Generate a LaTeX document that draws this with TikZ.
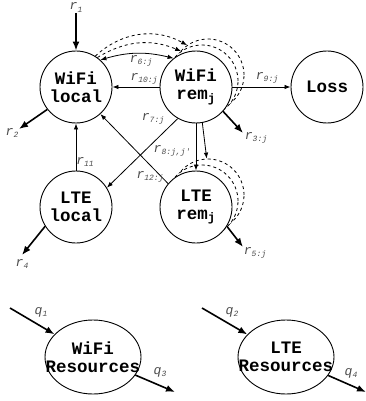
\documentclass[tikz,border=0pt]{standalone}
\usepackage{fontspec}
\setmonofont{Liberation Mono}
\usetikzlibrary{arrows.meta,shapes.geometric}

\newcommand{\rate}[2]{#1\raisebox{-2.5pt}{\fontsize{8}{8}\selectfont#2}}

\begin{document}
\begin{tikzpicture}[x=1pt,y=-1pt,>={Latex[length=6pt,width=4.5pt]},
        state/.style={circle,draw,fill=white,line width=0.9pt,minimum size=72pt,inner sep=0pt,
            align=center,font=\fontsize{17.5}{18}\selectfont\ttfamily\bfseries},
        ghost/.style={circle,draw,dashed,fill=white,line width=0.8pt,minimum size=72pt,inner sep=0pt},
        pool/.style={ellipse,draw,line width=0.9pt,minimum width=96pt,minimum height=74pt,inner sep=-15pt,
            align=center,font=\fontsize{17.5}{18}\selectfont\ttfamily\bfseries},
        rate/.style={text=black!70,inner sep=0pt,font=\fontsize{13}{13}\selectfont\ttfamily\itshape},
        flow/.style={->,line width=0.8pt},
        ext/.style={-{Latex[length=9pt,width=7pt]},line width=1.6pt}]
    \useasboundingbox (0,0) rectangle (365,401);

    % Remote copies
    \node[ghost] (wr2) at (208,75) {};
    \node[ghost] (wr1) at (202,81) {};
    \node[ghost] (lr2) at (208,195) {};
    \node[ghost] (lr1) at (202,201) {};

    % WiFi row
    \node[state] (wl) at (76,87) {WiFi\\local};
    \node[state] (wr) at (196,87) {WiFi\\rem\textsubscript{j}};
    \node[state] (loss) at (327,87) {Loss};

    % LTE row
    \node[state] (ll) at (76,207) {LTE\\local};
    \node[state] (lr) at (196,207) {LTE\\rem\textsubscript{j}};

    % Resources
    \node[pool] (wres) at (93,357) {WiFi\\Resources};
    \node[pool] (lres) at (286,357) {LTE\\Resources};

    % Free ends
    \coordinate (r1s) at (76,13);
    \coordinate (r2e) at (19,129);
    \coordinate (r3e) at (243,133);
    \coordinate (r4e) at (22,255);
    \coordinate (r5e) at (243,247);
    \coordinate (q1s) at (10,308);
    \coordinate (q2s) at (202,308);
    \coordinate (q3e) at (175,392);
    \coordinate (q4e) at (366,392);

    % Edges
    \draw[ext] (r1s) -- (wl);
    \draw[ext] (wl.218) -- (r2e);
    \draw[ext] (wr.-42) -- (r3e);
    \draw[ext] (ll.212) -- (r4e);
    \draw[ext] (lr.-32) -- (r5e);
    \draw[flow,<->] (wl.48) to[bend left=15] (wr.128);
    \draw[flow,dashed] (wl.54) to[bend left=27] (wr1.125);
    \draw[flow,dashed] (wl.58) to[bend left=36] (wr2.125);
    \draw[flow] (wr) -- (wl);
    \draw[flow] (wr) -- (loss);
    \draw[flow] (wr.240) -- (ll.32);
    \draw[flow] (lr.140) -- (wl.-48);
    \draw[flow] (ll) -- (wl);
    \draw[flow] (wr.270) -- (lr.90);
    \draw[flow] (wr.280) -- (lr2.92);
    \draw[ext] (q1s) -- (wres);
    \draw[ext] (wres) -- (q3e);
    \draw[ext] (q2s) -- (lres);
    \draw[ext] (lres) -- (q4e);

    % Labels
    \node[rate] (l1) at (76,7.5) {\rate{r}{1}};
    \node[rate] (l2) at (12,133) {\rate{r}{2}};
    \node[rate] (l3) at (256,138) {\rate{r}{3:j}};
    \node[rate] (l4) at (22,264) {\rate{r}{4}};
    \node[rate] (l5) at (255,253) {\rate{r}{5:j}};
    \node[rate] (l6) at (141,61) {\rate{r}{6:j}};
    \node[rate] (l7) at (153,119) {\rate{r}{7:j}};
    \node[rate] (l8) at (172,151) {\rate{r}{8:j,j'}};
    \node[rate] (l9) at (267,78) {\rate{r}{9:j}};
    \node[rate] (l10) at (144,79) {\rate{r}{10:j}};
    \node[rate] (l11) at (85,162) {\rate{r}{11}};
    \node[rate] (l12) at (150,177) {\rate{r}{12:j}};
    \node[rate] (lq1) at (41,312) {\rate{q}{1}};
    \node[rate] (lq2) at (232,312) {\rate{q}{2}};
    \node[rate] (lq3) at (160,372) {\rate{q}{3}};
    \node[rate] (lq4) at (351,373) {\rate{q}{4}};
\end{tikzpicture}
\end{document}
